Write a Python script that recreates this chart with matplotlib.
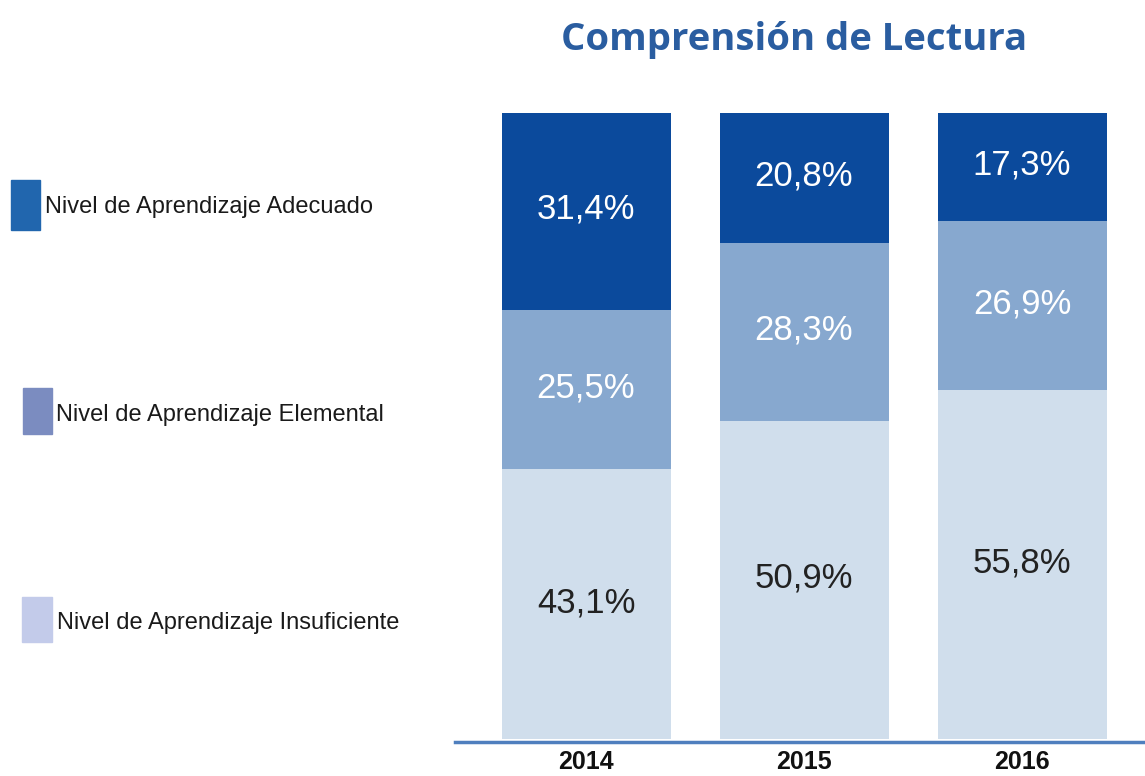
# Comprension de Lectura - stacked bars
import matplotlib.pyplot as plt
from matplotlib.patches import Rectangle

# data
years = ['2014', '2015', '2016']
insuficiente = [43.1, 50.9, 55.8]
elemental = [25.5, 28.3, 26.9]
adecuado = [31.4, 20.8, 17.3]
series_names = ['Nivel de Aprendizaje Adecuado',
                'Nivel de Aprendizaje Elemental',
                'Nivel de Aprendizaje Insuficiente']

bar_colors = ['#D0DEEC', '#87A8CF', '#0B4A9C']
legend_colors = ['#2166AE', '#7B8CC0', '#C3CBEA']
text_colors = ['#222222', 'white', 'white']

fig = plt.figure(figsize=(11.45, 7.76), dpi=100)
ax = fig.add_axes([455 / 1145, 34 / 776, 690 / 1145, 629 / 776])

x = range(len(years))
bottoms = [0, 0, 0]
for vals, col, tcol in zip([insuficiente, elemental, adecuado], bar_colors, text_colors):
    ax.bar(x, vals, width=0.775, bottom=bottoms, color=col, zorder=1)
    for i, v in enumerate(vals):
        ax.text(i, bottoms[i] + v / 2 + 0.3, f'{v:.1f}%'.replace('.', ','),
                ha='center', va='center', fontsize=25, color=tcol,
                family=['Liberation Sans', 'DejaVu Sans'])
    bottoms = [b + v for b, v in zip(bottoms, vals)]

ax.set_xlim(-0.601, 2.564)
ax.set_ylim(-0.4, 100)
for s in ['top', 'right', 'left']:
    ax.spines[s].set_visible(False)
ax.spines['bottom'].set_color('#4F7FBE')
ax.spines['bottom'].set_linewidth(2.5)
ax.spines['bottom'].set_zorder(3)
ax.set_yticks([])
ax.set_xticks(list(x))
ax.set_xticklabels(years, fontsize=18, fontweight='bold', color='#111111',
                   family=['Liberation Sans', 'DejaVu Sans'])
ax.tick_params(axis='x', length=0, pad=6)

# title
fig.text(794 / 1145, 1 - 40 / 776, 'Comprensión de Lectura', ha='center', va='center',
         fontsize=27.5, fontweight='bold', color='#2A5DA0', family=['Open Sans', 'DejaVu Sans'])

# legend on the left
sq = [(11, 180, 29, 50), (23, 388, 29, 46), (22, 597, 30, 45)]
txt = [(45, 207), (56, 415), (57, 623)]
for name, c, (sx, sy, sw, sh), (tx, ty) in zip(series_names, legend_colors, sq, txt):
    fig.patches.append(Rectangle((sx / 1145, 1 - (sy + sh) / 776), sw / 1145, sh / 776,
                                 transform=fig.transFigure, color=c))
    fig.text(tx / 1145, 1 - ty / 776, name, ha='left', va='center', fontsize=17,
             color='#1A1A1A', family=['Liberation Sans', 'DejaVu Sans'])

plt.savefig('out.png')
